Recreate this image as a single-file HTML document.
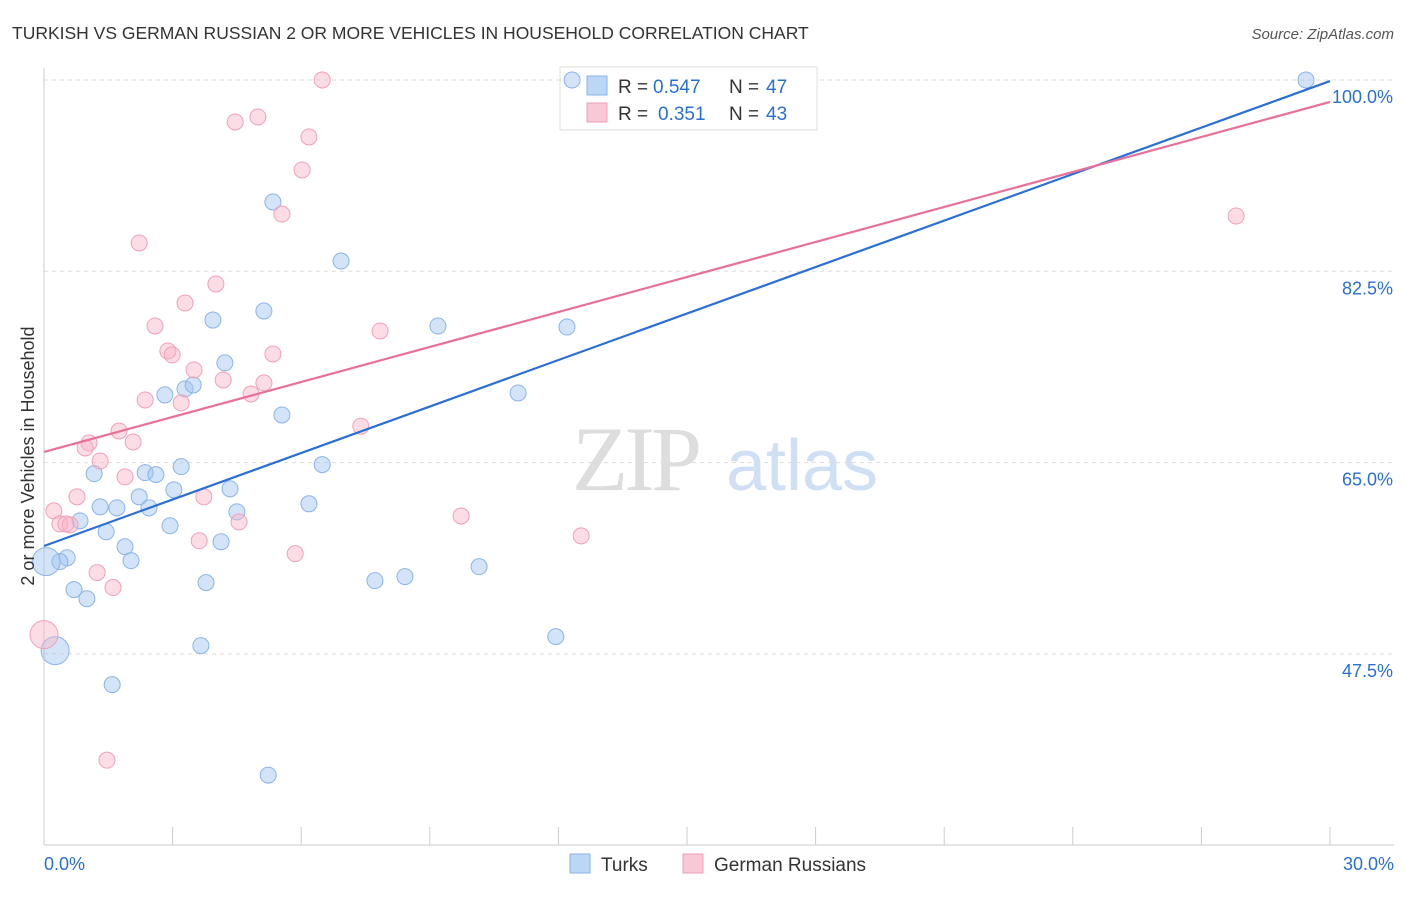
<!DOCTYPE html>
<html><head><meta charset="utf-8"><style>
body{margin:0;background:#fff;font-family:"Liberation Sans",sans-serif;}
</style></head><body>
<svg id="chart" width="1406" height="892" xmlns="http://www.w3.org/2000/svg" font-family="Liberation Sans, sans-serif">
<text x="12" y="39" font-size="17.5" fill="#333">TURKISH VS GERMAN RUSSIAN 2 OR MORE VEHICLES IN HOUSEHOLD CORRELATION CHART</text>
<text x="1394" y="39" font-size="15" fill="#555" text-anchor="end" font-style="italic">Source: ZipAtlas.com</text>
<g>
<text x="635" y="490" font-size="92" fill="#ddd" font-family="Liberation Serif, serif" text-anchor="middle" letter-spacing="-4">ZIP</text>
<text x="802" y="490" font-size="72" fill="#cfe0f4" text-anchor="middle">atlas</text>
</g>
<g id="grid"></g><g id="axes"></g>
<g>
<rect x="560" y="67" width="257" height="63" fill="#fff" stroke="#ddd"/>
<rect x="587" y="76" width="20" height="19" fill="#bcd6f6" stroke="#8ab4e8"/>
<rect x="587" y="103" width="20" height="19" fill="#f9c8d6" stroke="#f0a0b8"/>
<text x="618" y="93" font-size="19" fill="#333">R =</text>
<text x="653" y="93" font-size="19" fill="#2a6fd6">0.547</text>
<text x="729" y="93" font-size="19" fill="#333">N =</text>
<text x="766" y="93" font-size="19" fill="#2a6fd6">47</text>
<text x="618" y="120" font-size="19" fill="#333">R =</text>
<text x="658" y="120" font-size="19" fill="#2a6fd6">0.351</text>
<text x="729" y="120" font-size="19" fill="#333">N =</text>
<text x="766" y="120" font-size="19" fill="#2a6fd6">43</text>
</g>
<g id="pts"></g><g id="lines"></g>
<text transform="translate(34,456) rotate(-90)" font-size="18" fill="#333" text-anchor="middle">2 or more Vehicles in Household</text>
<g>
<rect x="570" y="854" width="20" height="19" fill="#bcd6f6" stroke="#8ab4e8"/>
<text x="601" y="871" font-size="19" fill="#333">Turks</text>
<rect x="683" y="854" width="20" height="19" fill="#f9c8d6" stroke="#f0a0b8"/>
<text x="714" y="871" font-size="19" fill="#333">German Russians</text>
</g>
</svg>
<script>
const yTicks=[100,82.5,65,47.5];
const yTickLabels=["100.0%","82.5%","65.0%","47.5%"];
const xTickLabels=["0.0%","30.0%"];
const turksX=[29.44,12.32,5.34,6.93,5.13,3.94,9.19,12.20,4.22,3.29,3.48,2.82,11.06,5.55,1.17,2.36,2.61,3.20,6.49,3.03,4.34,2.22,1.31,1.70,2.45,4.50,6.18,2.94,1.45,0.84,1.89,4.13,0.54,0.37,2.03,0.05,0.70,1.00,3.78,7.72,8.42,10.15,11.94,3.66,0.26,1.59,5.23];
const turksY=[100,100,88.84,83.44,78.87,78.04,77.50,77.40,74.12,71.74,72.10,71.19,71.37,69.36,63.99,64.08,63.90,64.63,64.82,62.51,62.60,61.87,60.95,60.86,60.86,60.49,61.23,59.22,58.67,59.67,57.30,57.76,56.30,55.94,56.03,55.94,53.38,52.55,54.02,54.20,54.57,55.48,49.08,48.26,47.80,44.69,36.41];
const turksBig=[35,44];
const grX=[6.49,4.99,4.46,6.18,6.02,5.55,27.81,2.22,4.01,3.29,2.59,7.84,2.89,2.99,5.34,3.50,4.18,5.13,4.83,3.20,2.36,7.39,1.75,2.08,1.05,0.96,1.31,1.89,0.77,3.73,0.23,9.73,4.55,0.37,0.61,0.51,3.62,12.53,5.86,1.24,1.61,0.00,1.47];
const grY=[100,96.62,96.16,94.79,91.77,87.74,87.56,85.09,81.34,79.60,77.50,77.04,75.21,74.85,74.94,73.48,72.56,72.29,71.28,70.46,70.73,68.33,67.89,66.89,66.80,66.34,65.15,63.69,61.87,61.87,60.58,60.12,59.57,59.39,59.30,59.39,57.85,58.30,56.67,54.94,53.57,49.26,37.78];
const grBig=[41];
const turksTrend=[57.37,99.9];
const grTrend=[65.97,97.99];
const NS="http://www.w3.org/2000/svg";
const sx=v=>44+v/30*1286;
const sy=v=>80+(100-v)/17.5*191.3;
function mk(tag,attrs,parent){const e=document.createElementNS(NS,tag);for(const k in attrs)e.setAttribute(k,attrs[k]);document.getElementById(parent).appendChild(e);return e;}
yTicks.forEach((t,i)=>{
 const l=mk('line',{x1:44,x2:1394,y1:sy(t),y2:sy(t),stroke:'#ddd','stroke-dasharray':'4,4'},'grid');
 
 
 const tx=mk('text',{x:1393,y:sy(t)+23,'font-size':18,fill:'#2a6fd6','text-anchor':'end'},'axes');
 tx.textContent=yTickLabels[i];
 
 
});
const ax=mk('line',{x1:44,x2:44,y1:68,y2:845,stroke:'#ccc'},'axes');


const bx=mk('line',{x1:44,x2:1394,y1:845,y2:845,stroke:'#ccc'},'axes');


for(let i=0;i<=10;i++){const t=mk('line',{x1:sx(i*3),x2:sx(i*3),y1:827,y2:845,stroke:'#ccc'},'axes');
 
 }
const xl0=mk('text',{x:44,y:870,'font-size':18,fill:'#2a6fd6'},'axes');xl0.textContent=xTickLabels[0];


const xl1=mk('text',{x:1394,y:870,'font-size':18,fill:'#2a6fd6','text-anchor':'end'},'axes');xl1.textContent=xTickLabels[1];


function pts(X,Y,big,fill,stroke,name){X.forEach((x,i)=>{const c=mk('circle',{cx:sx(x),cy:sy(Y[i]),r:big.includes(i)?14:8,fill:fill,stroke:stroke,'stroke-width':1},'pts');
 
 });}
pts(turksX,turksY,turksBig,'rgba(160,196,240,0.45)','#8ab4e8','turks-point');
pts(grX,grY,grBig,'rgba(248,180,200,0.45)','#f0a0b8','german-russians-point');
const l1=mk('line',{x1:sx(0),y1:sy(turksTrend[0]),x2:sx(30),y2:sy(turksTrend[1]),stroke:'#2a6fd6','stroke-width':2.2},'lines');


const l2=mk('line',{x1:sx(0),y1:sy(grTrend[0]),x2:sx(30),y2:sy(grTrend[1]),stroke:'#e8709a','stroke-width':2.2},'lines');


</script>
</body></html>
